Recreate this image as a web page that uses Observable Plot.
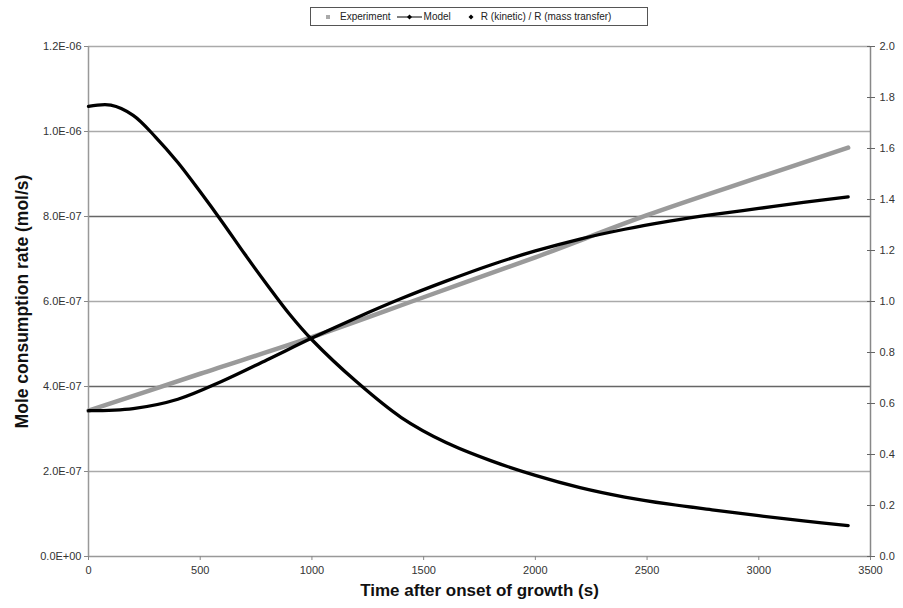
<!DOCTYPE html>
<html>
<head>
<meta charset="utf-8">
<script src="https://cdn.jsdelivr.net/npm/d3@7"></script>
<script src="https://cdn.jsdelivr.net/npm/@observablehq/plot@0.6"></script>
<style>
  html, body { margin: 0; padding: 0; background: #fff; }
  #wrap { position: relative; width: 903px; height: 608px; font-family: "Liberation Sans", Arial, sans-serif; }
  #legend { position: absolute; left: 310px; top: 7px; width: 336px; height: 17px; border: 1px solid #555;
            font-size: 10px; color: #222; display: flex; align-items: center; white-space: nowrap; background: #fff; z-index: 2; }
  #legend svg { display: block; }
  #legend .item { display: flex; align-items: center; }
</style>
</head>
<body>
<div id="wrap">
  <div id="legend">
    <span class="item" style="margin-left:13px"><svg width="8" height="8"><rect x="2" y="2" width="4" height="4" fill="#aaa"/></svg><span style="margin-left:8px">Experiment</span></span>
    <span class="item" style="margin-left:6px"><svg width="25" height="8"><line x1="0" y1="4" x2="25" y2="4" stroke="#000" stroke-width="1"/><path d="M12.5 1.5 L15 4 L12.5 6.5 L10 4 Z" fill="#000"/></svg><span style="margin-left:2px">Model</span></span>
    <span class="item" style="margin-left:16px"><svg width="8" height="8"><path d="M4 1.5 L6.5 4 L4 6.5 L1.5 4 Z" fill="#000"/></svg><span style="margin-left:6px">R (kinetic) / R (mass transfer)</span></span>
  </div>
</div>
<script>
// ---- data ----
const expTime = [0, 500, 1000, 1500, 2000, 2500, 3000, 3400];
const expRate = [3.43e-7, 4.30e-7, 5.16e-7, 6.10e-7, 7.04e-7, 8.03e-7, 8.92e-7, 9.62e-7];

const modelTime = [0, 200, 400, 600, 800, 1000, 1200, 1400, 1600, 1800, 2000, 2200, 2400, 2600, 2800, 3000, 3200, 3400];
const modelRate = [3.43e-7, 3.48e-7, 3.70e-7, 4.13e-7, 4.63e-7, 5.14e-7, 5.62e-7, 6.07e-7, 6.48e-7, 6.86e-7, 7.19e-7, 7.47e-7, 7.70e-7, 7.89e-7, 8.05e-7, 8.19e-7, 8.33e-7, 8.46e-7];

const ratioTime = [0, 100, 200, 300, 400, 500, 600, 700, 800, 900, 1000, 1200, 1400, 1600, 1800, 2000, 2200, 2400, 2600, 2800, 3000, 3200, 3400];
const ratioVal = [1.765, 1.770, 1.730, 1.645, 1.545, 1.43, 1.31, 1.185, 1.065, 0.95, 0.85, 0.685, 0.545, 0.447, 0.376, 0.318, 0.27, 0.233, 0.205, 0.182, 0.160, 0.14, 0.121];

const xTicks = [0, 500, 1000, 1500, 2000, 2500, 3000, 3500];
const leftTicks = [0, 2e-7, 4e-7, 6e-7, 8e-7, 1.0e-6, 1.2e-6];
const rightTicks = [0, 0.2, 0.4, 0.6, 0.8, 1.0, 1.2, 1.4, 1.6, 1.8, 2.0];
const gridLight = [2e-7, 6e-7, 1.0e-6, 1.2e-6];
const gridDark = [4e-7, 8e-7];

const xLabel = "Time after onset of growth (s)";
const yLabel = "Mole consumption rate (mol/s)";

// ---- helpers ----
const leftMax = 1.2e-6, rightMax = 2.0;
const toLeft = r => r * leftMax / rightMax;
function sciFmt(d) {
  if (d === 0) return "0.0E+00";
  const [m, e] = d.toExponential(1).split("e");
  const sign = e[0] === "-" ? "-" : "+";
  return m + "E" + sign + String(Math.abs(+e)).padStart(2, "0");
}

const expData = expTime.map((t, i) => ({t, v: expRate[i]}));
const modelData = modelTime.map((t, i) => ({t, v: modelRate[i]}));
const ratioData = ratioTime.map((t, i) => ({t, r: ratioVal[i]}));

const chart = Plot.plot({
  width: 903,
  height: 608,
  marginLeft: 88,
  marginRight: 33,
  marginTop: 46,
  marginBottom: 52,
  style: {fontFamily: "'Liberation Sans', Arial, sans-serif", fontSize: "11px", color: "#333", background: "transparent"},
  x: {domain: [0, 3500]},
  y: {domain: [0, leftMax]},
  marks: [
    Plot.ruleY(gridLight, {stroke: "#aaa", strokeWidth: 1.5}),
    Plot.ruleY(gridDark, {stroke: "#666", strokeWidth: 1.5}),
    Plot.ruleY([0], {stroke: "#999", strokeWidth: 1.5}),
    Plot.ruleX([0], {stroke: "#999", strokeWidth: 1.5}),
    Plot.ruleX([3500], {stroke: "#888", strokeWidth: 1.5}),
    Plot.axisX(xTicks, {tickSize: 4, tickPadding: 6, stroke: "#888", fill: "#333", label: null, tickFormat: d => String(d)}),
    Plot.axisY(leftTicks, {anchor: "left", tickSize: 4, tickPadding: 3, stroke: "#888", fill: "#333", tickFormat: sciFmt, label: null}),
    Plot.axisY(rightTicks.map(toLeft), {anchor: "right", tickSize: 8, dx: -4, tickPadding: 5, stroke: "#666", fill: "#333", tickFormat: d => (d / toLeft(1)).toFixed(1), label: null}),
    Plot.text([yLabel], {frameAnchor: "left", rotate: -90, dx: -66, textAnchor: "middle", lineAnchor: "middle", fontWeight: "bold", fontSize: 17.5, fill: "#111"}),
    Plot.text([xLabel], {frameAnchor: "bottom", dy: 34, textAnchor: "middle", lineAnchor: "middle", fontWeight: "bold", fontSize: 17, fill: "#111"}),
    Plot.line(expData, {x: "t", y: "v", stroke: "#9a9a9a", strokeWidth: 4.5, curve: "catmull-rom"}),
    Plot.line(modelData, {x: "t", y: "v", stroke: "#000", strokeWidth: 3.3, curve: "catmull-rom"}),
    Plot.line(ratioData, {x: "t", y: d => toLeft(d.r), stroke: "#000", strokeWidth: 3.3, curve: "catmull-rom"})
  ]
});
document.getElementById("wrap").appendChild(chart);
chart.style.position = "absolute";
chart.style.left = "0";
chart.style.top = "0";
</script>
</body>
</html>
